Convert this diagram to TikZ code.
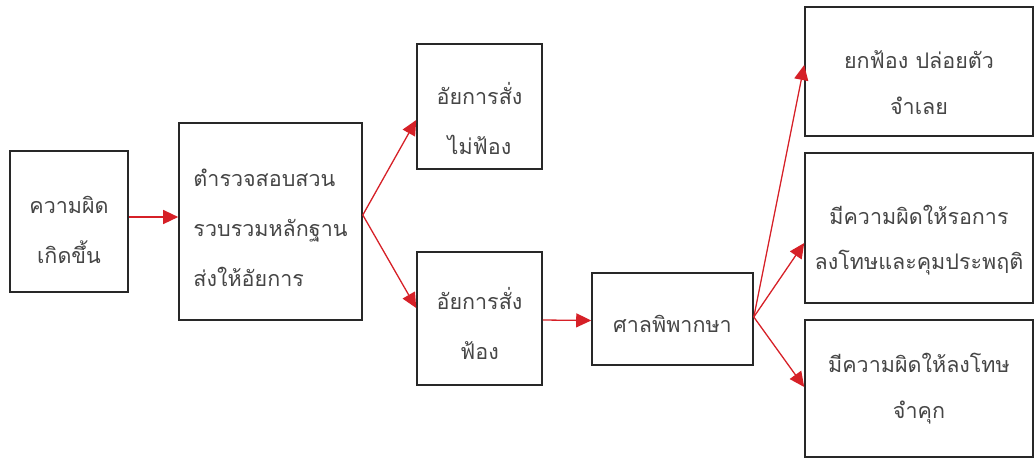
\documentclass[tikz,border=0pt]{standalone}
\usepackage{fontspec}
\newfontfamily\thaifont[Script=Thai]{Loma}
\usetikzlibrary{arrows.meta}
\definecolor{arrowred}{RGB}{214,32,39}
\definecolor{boxline}{RGB}{40,40,40}
\definecolor{txtgray}{RGB}{70,70,70}
\begin{document}
\begin{tikzpicture}[x=1pt,y=-1pt,
  box/.style={draw=boxline,line width=1.6pt,inner sep=0pt},
  txt/.style={inner sep=0pt,align=center,text=txtgray,
    font=\thaifont\fontsize{21.5}{50}\selectfont},
  txtr/.style={txt,font=\thaifont\fontsize{21.5}{45.5}\selectfont},
  flow/.style={draw=arrowred,line width=1.3pt,-{Triangle[length=15pt,width=14pt]}}]
\useasboundingbox (0,0) rectangle (1035,459);
\node[box,minimum width=118pt,minimum height=141pt] (b1) at (69,221.5) {};
\node[box,minimum width=183pt,minimum height=197pt] (b2) at (270.5,221.5) {};
\node[box,minimum width=125pt,minimum height=125pt] (b3) at (479.5,106.5) {};
\node[box,minimum width=125pt,minimum height=133pt] (b4) at (479.5,318.5) {};
\node[box,minimum width=161pt,minimum height=92pt] (b5) at (672.5,319) {};
\node[box,minimum width=228pt,minimum height=129pt] (b6) at (919,71.5) {};
\node[box,minimum width=228pt,minimum height=150pt] (b7) at (919,228) {};
\node[box,minimum width=228pt,minimum height=137pt] (b8) at (919,388.5) {};
\node[txt,yshift=-8pt] (t1) at (b1.center) {ความผิด\\เกิดขึ้น};
\node[txt,align=left,yshift=-6pt] (t2) at (b2.center) {ตำรวจสอบสวน\\รวบรวมหลักฐาน\\ส่งให้อัยการ};
\node[txt,yshift=-12pt] (t3) at (b3.center) {อัยการสั่ง\\ไม่ฟ้อง};
\node[txt,yshift=-5pt] (t4) at (b4.center) {อัยการสั่ง\\ฟ้อง};
\node[txt,yshift=-5pt] (t5) at (b5.center) {ศาลพิพากษา};
\node[txtr,yshift=-11pt] (t6) at (b6.center) {ยกฟ้อง ปล่อยตัว\\จำเลย};
\node[txtr,yshift=-12pt] (t7) at (b7.center) {มีความผิดให้รอการ\\ลงโทษและคุมประพฤติ};
\node[txtr] (t8) at (b8.center) {มีความผิดให้ลงโทษ\\จำคุก};
\draw[flow] ([yshift=4.5pt]b1.east) -- ([yshift=4.5pt]b2.west);
\draw[flow] ([yshift=6.5pt]b2.east) -- ([yshift=-13.5pt]b3.west);
\draw[flow] ([yshift=6.5pt]b2.east) -- ([yshift=10.5pt]b4.west);
\draw[flow] ([yshift=-1.5pt]b4.east) -- ([yshift=-1.5pt]b5.west);
\draw[flow] ([yshift=2pt]b5.east) -- ([yshift=6.5pt]b6.west);
\draw[flow] ([yshift=2pt]b5.east) -- ([yshift=-15pt]b7.west);
\draw[flow] ([yshift=2pt]b5.east) -- ([yshift=1.5pt]b8.west);
\end{tikzpicture}
\end{document}
